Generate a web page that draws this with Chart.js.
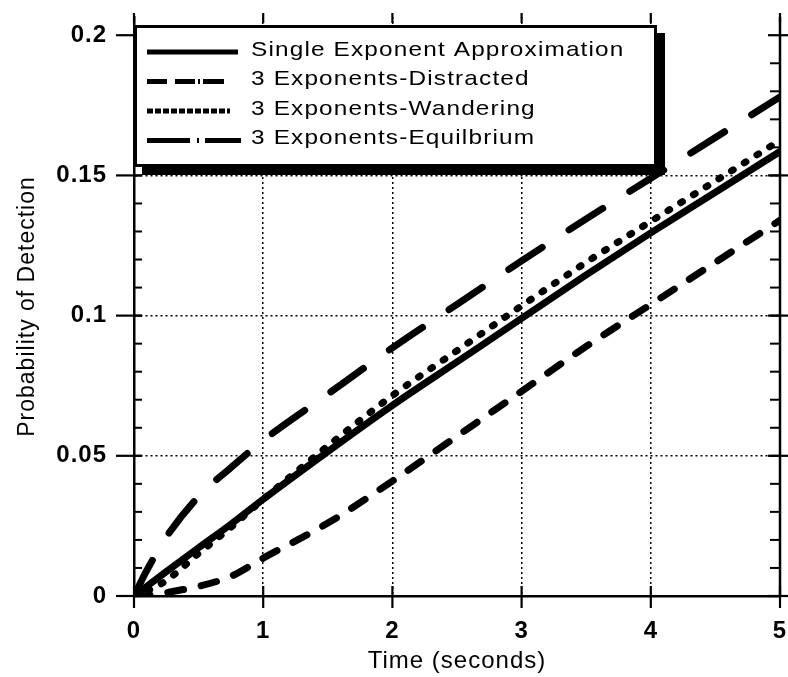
<!DOCTYPE html>
<html>
<head>
<meta charset="utf-8">
<script src="https://cdn.jsdelivr.net/npm/chart.js@4.4.0/dist/chart.umd.min.js"></script>
<style>
  html, body { margin: 0; padding: 0; background: #fff; }
</style>
</head>
<body>
<canvas id="chart-detection" width="788" height="677"></canvas>
<script>
// time in seconds (shared by every curve)
const times = [0, 0.1, 0.25, 0.5, 0.75, 1, 1.5, 2, 2.5, 3, 3.5, 4, 4.5, 5];

const singleExponent = [0, 0.0035, 0.0087, 0.0172, 0.0256, 0.0345, 0.0515, 0.068, 0.0835, 0.099, 0.1145, 0.1295, 0.144, 0.1585];
const distracted = [0, 0.0002, 0.0012, 0.0035, 0.007, 0.0135, 0.026, 0.041, 0.057, 0.073, 0.089, 0.104, 0.119, 0.134];
const wandering = [0, 0.0018, 0.0055, 0.0152, 0.0245, 0.0345, 0.0535, 0.0715, 0.0875, 0.1035, 0.119, 0.1336, 0.148, 0.1625];
const equilibrium = [0, 0.0092, 0.021, 0.0355, 0.0458, 0.0555, 0.072, 0.0885, 0.104, 0.1195, 0.1345, 0.149, 0.1635, 0.178];

const labels = [
  'Single Exponent Approximation',
  '3 Exponents-Distracted',
  '3 Exponents-Wandering',
  '3 Exponents-Equilbrium'
];

const xTicks = [0, 1, 2, 3, 4, 5];
const yTicks = [0, 0.05, 0.1, 0.15, 0.2];

const FONT = '"Liberation Sans", Arial, Helvetica, sans-serif';

// line dash used in the plot, and the sample drawn in the legend box
const plotDash = [[], [16, 18], [2, 13], [40, 32]];
const legendDash = [[], [20, 8, 20, 3, 2, 3, 21, 200], [6, 2], [43, 7, 2, 6, 36, 200]];
const legendLen = [91, 77, 83, 94];

const makeSet = (label, values, dash) => ({
  label,
  data: times.map((t, i) => ({ x: t, y: values[i] })),
  borderColor: '#000',
  borderWidth: 7,
  borderDash: dash,
  borderCapStyle: 'round',
  borderJoinStyle: 'round',
  pointRadius: 0,
  cubicInterpolationMode: 'monotone',
  fill: false
});

const noPad = s => { s.paddingLeft = 0; s.paddingRight = 0; s.paddingTop = 0; s.paddingBottom = 0; };

const frame = {
  id: 'frame',
  beforeDraw(chart) {
    chart.ctx.letterSpacing = '1px';
  },
  afterDraw(chart) {
    const { ctx, chartArea: a, scales: { x, y } } = chart;
    const seg = (x1, y1, x2, y2) => { ctx.beginPath(); ctx.moveTo(x1, y1); ctx.lineTo(x2, y2); ctx.stroke(); };
    ctx.save();
    ctx.strokeStyle = '#000';
    ctx.setLineDash([]);

    // right axis
    ctx.lineWidth = 2.5;
    seg(a.right, a.top, a.right, a.bottom);

    // minor y ticks every 0.01
    ctx.lineWidth = 2;
    for (let v = 0.01; v < 0.2; v += 0.01) {
      const py = y.getPixelForValue(v);
      seg(a.left, py, a.left + 8, py);
      seg(a.right - 10, py, a.right, py);
    }
    // major y ticks
    ctx.lineWidth = 2.2;
    yTicks.forEach(v => {
      const py = y.getPixelForValue(v);
      seg(a.left - 18, py, a.left + 8, py);
      seg(a.right - 12, py, a.right + 8, py);
    });
    // x ticks, bottom and top
    xTicks.forEach(v => {
      const px = x.getPixelForValue(v);
      seg(px, a.bottom - 10, px, a.bottom + 12);
      seg(px, a.top - 4, px, a.top + 6);
    });

    // legend box with heavy drop shadow
    const bx = a.left, by = a.top + 8, bw = 523, bh = 142, sh = 8;
    ctx.fillStyle = '#000';
    ctx.fillRect(bx + sh, by + sh, bw, bh);
    ctx.fillStyle = '#fff';
    ctx.fillRect(bx, by, bw, bh);
    ctx.lineWidth = 3;
    ctx.strokeRect(bx + 1.5, by + 1.5, bw - 3, bh - 3);

    ctx.font = '21px ' + FONT;
    ctx.fillStyle = '#000';
    ctx.textBaseline = 'middle';
    ctx.letterSpacing = '1px';
    labels.forEach((txt, i) => {
      const ly = by + 27 + i * 29.5;
      ctx.lineWidth = 5;
      ctx.lineCap = 'butt';
      ctx.setLineDash(legendDash[i]);
      seg(bx + 13, ly, bx + 13 + legendLen[i], ly);
      ctx.setLineDash([]);
      ctx.save();
      ctx.translate(bx + 117, ly - 2);
      ctx.scale(1.16, 1);
      ctx.fillText(txt, 0, 0);
      ctx.restore();
    });
    ctx.restore();
  }
};

new Chart(document.getElementById('chart-detection'), {
  type: 'line',
  data: {
    datasets: [
      makeSet(labels[0], singleExponent, plotDash[0]),
      makeSet(labels[1], distracted, plotDash[1]),
      makeSet(labels[2], wandering, plotDash[2]),
      makeSet(labels[3], equilibrium, plotDash[3])
    ]
  },
  options: {
    responsive: false,
    animation: false,
    devicePixelRatio: 1,
    layout: { padding: { top: 17, right: 8, left: 0, bottom: 0 } },
    plugins: {
      legend: { display: false },
      tooltip: { enabled: false }
    },
    scales: {
      x: {
        type: 'linear',
        min: 0,
        max: 5,
        afterBuildTicks: s => { s.ticks = xTicks.map(v => ({ value: v })); },
        afterFit: s => { s.height = 81; noPad(s); },
        grid: {
          color: c => (c.tick && (c.tick.value === 0 || c.tick.value === 5)) ? 'rgba(0,0,0,0)' : '#000',
          lineWidth: 1.5,
          drawTicks: false
        },
        border: { display: true, color: '#000', width: 2.5, dash: [2, 3] },
        ticks: {
          color: '#000',
          padding: 21,
          maxRotation: 0,
          font: { family: FONT, size: 24, weight: 'bold' },
          callback: v => String(v)
        },
        title: {
          display: true,
          text: 'Time (seconds)',
          color: '#000',
          font: { family: FONT, size: 24 },
          padding: { top: 0, bottom: 1 }
        }
      },
      y: {
        type: 'linear',
        min: 0,
        max: 0.2065,
        afterBuildTicks: s => { s.ticks = yTicks.map(v => ({ value: v })); },
        afterFit: s => { s.width = 134; noPad(s); },
        grid: {
          color: c => (c.tick && (c.tick.value === 0 || c.tick.value === 0.2)) ? 'rgba(0,0,0,0)' : '#000',
          lineWidth: 1.5,
          drawTicks: false
        },
        border: { display: true, color: '#000', width: 2.5, dash: [2, 3] },
        ticks: {
          color: '#000',
          padding: 27,
          font: { family: FONT, size: 24, weight: 'bold' },
          callback: v => String(+v.toFixed(3))
        },
        title: {
          display: true,
          text: 'Probability of Detection',
          color: '#000',
          font: { family: FONT, size: 23 },
          padding: { top: 14, bottom: 0 }
        }
      }
    }
  },
  plugins: [frame]
});
</script>
</body>
</html>
